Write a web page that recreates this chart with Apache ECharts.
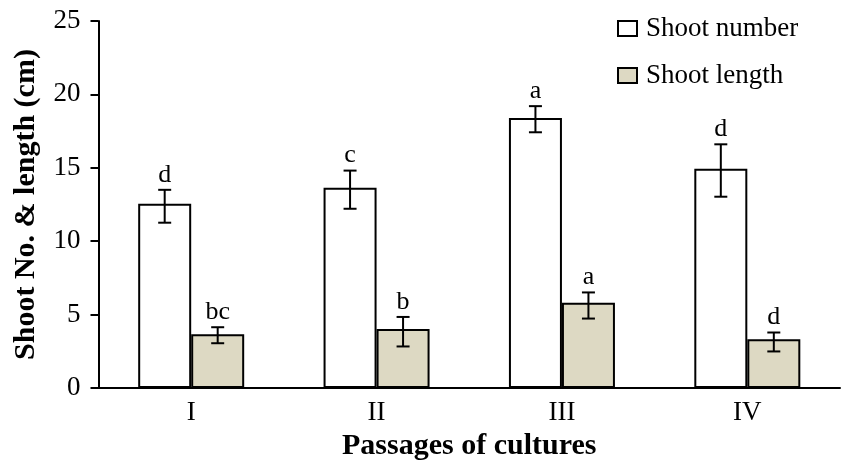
<!DOCTYPE html>
<html>
<head>
<meta charset="utf-8">
<script src="https://cdn.jsdelivr.net/npm/echarts@6/dist/echarts.min.js"></script>
<style>
    html,body{margin:0;padding:0;background:#fff;}
    #main{width:842px;height:465px;}
</style>
</head>
<body>
<div id="main"></div>
<script>
//数据
let categories = ['I', 'II', 'III', 'IV'];
let shootNumber = [12.55, 13.64, 18.39, 14.93];
let numberLow = [11.26, 12.21, 17.42, 13.03];
let numberHigh = [13.5, 14.81, 19.2, 16.6];
let numberLetters = ['d', 'c', 'a', 'd'];
let shootLength = [3.66, 4.02, 5.81, 3.32];
let lengthLow = [3.05, 2.83, 4.73, 2.49];
let lengthHigh = [4.14, 4.84, 6.51, 3.78];
let lengthLetters = ['bc', 'b', 'a', 'd'];
let yTicks = [0, 5, 10, 15, 20, 25];

let serif = '"Liberation Serif", "Times New Roman", serif';
let barW = 53;

//误差线 + 字母
function errorRender(offset, letters) {
    return function (params, api) {
        let i = api.value(0);
        let x = api.coord([i, 0])[0] + offset;
        let lo = api.coord([i, api.value(1)])[1];
        let hi = api.coord([i, api.value(2)])[1];
        let cap = 6.5;
        let ls = {stroke: '#000', lineWidth: 2};
        return {
            type: 'group',
            children: [
                {type: 'line', shape: {x1: x, y1: lo, x2: x, y2: hi}, style: ls},
                {type: 'line', shape: {x1: x - cap, y1: hi, x2: x + cap, y2: hi}, style: ls},
                {type: 'line', shape: {x1: x - cap, y1: lo, x2: x + cap, y2: lo}, style: ls},
                {type: 'text', style: {
                    text: letters[params.dataIndex], x: x, y: hi - 2,
                    align: 'center', verticalAlign: 'bottom',
                    font: '26px ' + serif, fill: '#000'
                }}
            ]
        };
    };
}

function errData(low, high) {
    let d = [];
    for (let i = 0; i < low.length; i++) {
        d.push([i, low[i], high[i]]);
    }
    return d;
}

let chart = echarts.init(document.getElementById('main'));
let option = {
    animation: false,
    backgroundColor: '#fff',
    textStyle: {fontFamily: serif, color: '#000'},
    grid: {left: 98.5, right: 2, top: 21, bottom: 77, containLabel: false, outerBoundsMode: 'none'},
    legend: {
        orient: 'vertical',
        left: 612,
        top: 10,
        itemWidth: 19,
        itemHeight: 15,
        itemGap: 20,
        icon: 'rect',
        data: ['Shoot number', 'Shoot length'],
        textStyle: {fontFamily: serif, fontSize: 27, color: '#000', padding: [0, 0, 0, 4]}
    },
    xAxis: {
        type: 'category',
        data: categories,
        name: 'Passages of cultures',
        nameLocation: 'middle',
        nameGap: 43,
        nameTextStyle: {fontFamily: serif, fontSize: 30, fontWeight: 'bold', color: '#000'},
        axisLine: {lineStyle: {color: '#000', width: 2}},
        axisTick: {length: 8, lineStyle: {color: '#000', width: 2}},
        axisLabel: {fontFamily: serif, fontSize: 27, color: '#000', margin: 11}
    },
    yAxis: {
        type: 'value',
        min: 0,
        max: 25,
        interval: 5,
        name: 'Shoot No. & length (cm)',
        nameLocation: 'middle',
        nameGap: 57,
        nameTextStyle: {fontFamily: serif, fontSize: 30, fontWeight: 'bold', color: '#000'},
        axisLine: {show: true, lineStyle: {color: '#000', width: 2}},
        axisTick: {show: true, length: 8, lineStyle: {color: '#000', width: 2}},
        axisLabel: {fontFamily: serif, fontSize: 27, color: '#000', margin: 18,
            formatter: function (v) { return yTicks.indexOf(v) >= 0 ? String(v) : ''; }},
        splitLine: {show: false}
    },
    series: [
        {
            name: 'Shoot number', type: 'bar', data: shootNumber,
            barWidth: barW, barGap: '0%',
            itemStyle: {color: '#fff', borderColor: '#000', borderWidth: 2}
        },
        {
            name: 'Shoot length', type: 'bar', data: shootLength,
            barWidth: barW, barGap: '0%',
            itemStyle: {color: '#ddd9c3', borderColor: '#000', borderWidth: 2}
        },
        {
            type: 'custom', renderItem: errorRender(-barW / 2, numberLetters),
            data: errData(numberLow, numberHigh), z: 5, silent: true
        },
        {
            type: 'custom', renderItem: errorRender(barW / 2, lengthLetters),
            data: errData(lengthLow, lengthHigh), z: 5, silent: true
        }
    ]
};
chart.setOption(option);
</script>
</body>
</html>
